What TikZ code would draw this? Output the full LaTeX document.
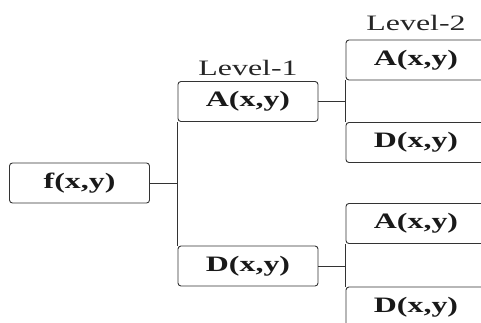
\documentclass[tikz,border=0pt]{standalone}
\usepackage{fontspec}
\setmainfont{Liberation Serif}[FakeStretch=1.45]
\usetikzlibrary{positioning}
\newcommand{\cellw}{140pt}
\newcommand{\cellh}{40pt}

\begin{document}
\begin{tikzpicture}[x=1pt, y=-1pt, line width=0.9pt,
  font=\fontsize{22}{26}\selectfont,
  cell/.style={draw=black!80, rounded corners=3pt, minimum width=\cellw, minimum height=\cellh, inner sep=0pt, font=\fontsize{22}{26}\selectfont\bfseries, text=black!90},
  lvl/.style={inner sep=0pt, text=black!85},
  link/.style={draw=black!80}]
\useasboundingbox (0,0) rectangle (481,322);
\clip (0,0) rectangle (481,322);

% root
\node[cell] (f) at (79.5,183) {f(x,y)};

% Level-1
\node[cell] (A1) at (248,101.5) {A(x,y)};
\node[cell] (D1) at (248,266) {D(x,y)};
\node[lvl, above=5pt of A1] (L1) {Level-1};

% Level-2
\node[cell] (AA) at (416,60) {A(x,y)};
\node[cell] (AD) at (416,142.5) {D(x,y)};
\node[cell] (DA) at (416,223.5) {A(x,y)};
\node[cell] (DD) at (416,307) {D(x,y)};
\node[lvl, above=8pt of AA] (L2) {Level-2};

% connectors
\draw[link] (f.east) -- (f.east -| A1.west);
\draw[link] (A1.south west) -- (D1.north west);
\draw[link] (A1.east) -- (A1.east -| AA.west);
\draw[link] (AA.south west) -- (AD.north west);
\draw[link] (D1.east) -- (D1.east -| DA.west);
\draw[link] (DA.south west) -- (DD.north west);

\end{tikzpicture}
\end{document}
